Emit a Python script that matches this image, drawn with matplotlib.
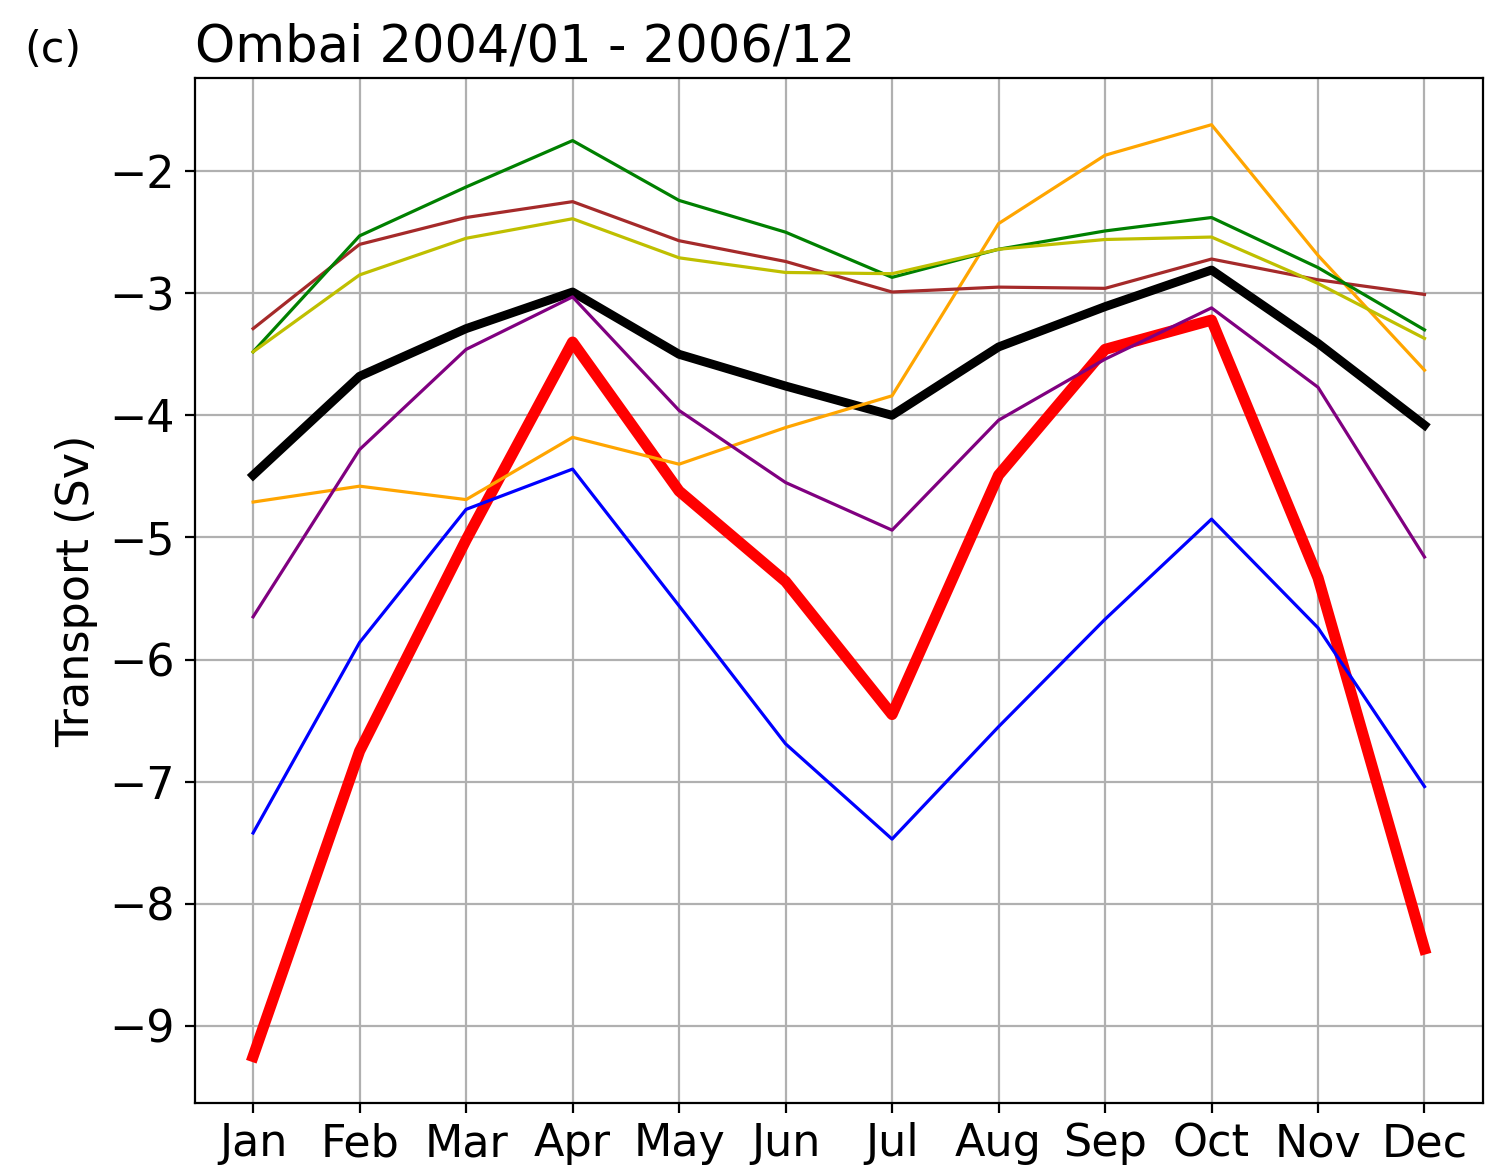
import numpy as np
import matplotlib
matplotlib.use('Agg')
import matplotlib.pyplot as plt

months = ['Jan', 'Feb', 'Mar', 'Apr', 'May', 'Jun',
          'Jul', 'Aug', 'Sep', 'Oct', 'Nov', 'Dec']

# thick lines
obs = [-9.25, -6.75, -5.02, -3.40, -4.62, -5.36, -6.45, -4.49, -3.46, -3.22, -5.33, -8.37]
ens_mean = [-4.49, -3.68, -3.29, -2.99, -3.50, -3.76, -4.00, -3.44, -3.11, -2.81, -3.41, -4.08]

# thin lines
blue = [-7.42, -5.86, -4.77, -4.44, -5.56, -6.69, -7.47, -6.55, -5.67, -4.85, -5.74, -7.04]
purple = [-5.65, -4.28, -3.46, -3.03, -3.96, -4.55, -4.94, -4.04, -3.54, -3.12, -3.77, -5.16]
orange = [-4.71, -4.58, -4.69, -4.18, -4.40, -4.10, -3.84, -2.43, -1.87, -1.62, -2.69, -3.63]
green = [-3.48, -2.53, -2.13, -1.75, -2.24, -2.50, -2.87, -2.64, -2.49, -2.38, -2.79, -3.30]
brown = [-3.29, -2.60, -2.38, -2.25, -2.57, -2.74, -2.99, -2.95, -2.96, -2.72, -2.89, -3.01]
olive = [-3.48, -2.85, -2.55, -2.39, -2.71, -2.83, -2.84, -2.64, -2.56, -2.54, -2.92, -3.37]

x = np.arange(len(months))

fig = plt.figure(figsize=(7.425, 5.83), dpi=200)
ax = fig.add_axes([0.131, 0.054, 0.8677, 0.879])

ax.plot(x, obs, color='r', lw=4)
ax.plot(x, ens_mean, color='k', lw=3.2)
ax.plot(x, blue, color='b', lw=1.15)
ax.plot(x, orange, color='orange', lw=1.15)
ax.plot(x, purple, color='purple', lw=1.15)
ax.plot(x, brown, color='brown', lw=1.15)
ax.plot(x, green, color='g', lw=1.15)
ax.plot(x, olive, color='y', lw=1.15)

ax.set_xticks(x)
ax.set_xticklabels(months, fontsize=16)
ax.set_yticks([-9, -8, -7, -6, -5, -4, -3, -2])
ax.tick_params(axis='y', labelsize=16)
ax.set_ylabel('Transport (Sv)', fontsize=16)
ax.grid(True)
ax.set_axisbelow(True)

fig.text(0.131, 0.947, 'Ombai 2004/01 - 2006/12', fontsize=18.4, ha='left', va='baseline')
fig.text(0.016, 0.947, '(c)', fontsize=15.5, ha='left', va='baseline')

fig.savefig('out.png', dpi=200)
